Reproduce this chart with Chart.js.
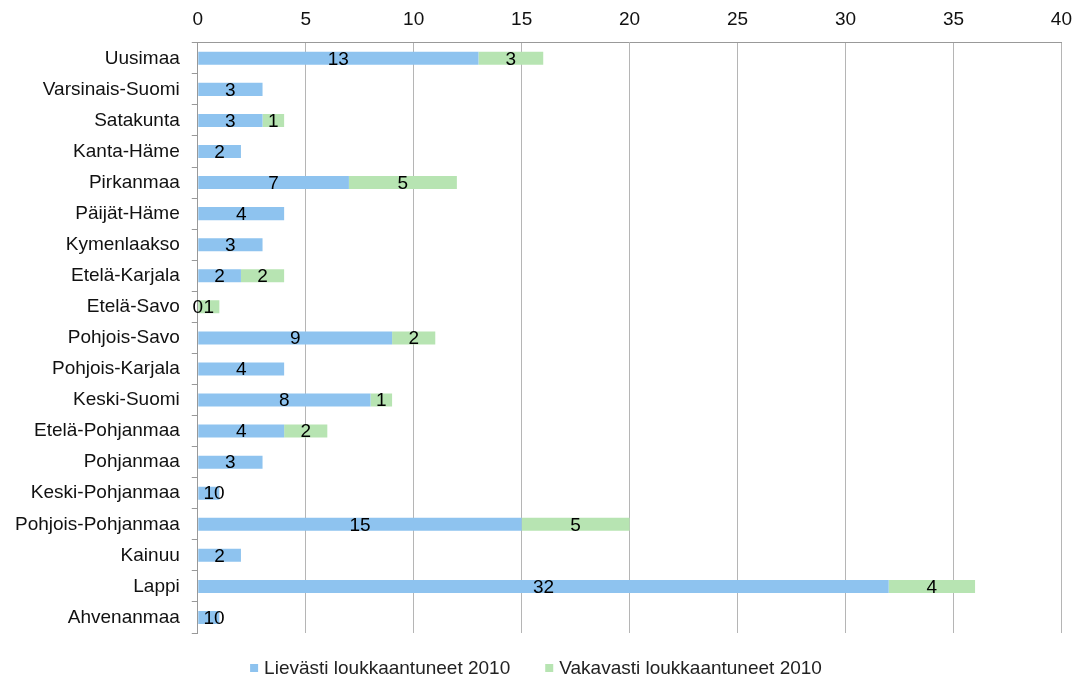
<!DOCTYPE html>
<html>
<head>
<meta charset="utf-8">
<script src="https://cdn.jsdelivr.net/npm/chart.js@4/dist/chart.umd.min.js"></script>
<style>
  html, body { margin: 0; padding: 0; background: #fff; overflow: hidden; }
  #wrap { width: 1084px; height: 682px; }
</style>
</head>
<body>
<div id="wrap"><canvas id="injuries"></canvas></div>
<script>
const regions = [
  "Uusimaa", "Varsinais-Suomi", "Satakunta", "Kanta-Häme", "Pirkanmaa",
  "Päijät-Häme", "Kymenlaakso", "Etelä-Karjala", "Etelä-Savo", "Pohjois-Savo",
  "Pohjois-Karjala", "Keski-Suomi", "Etelä-Pohjanmaa", "Pohjanmaa",
  "Keski-Pohjanmaa", "Pohjois-Pohjanmaa", "Kainuu", "Lappi", "Ahvenanmaa"
]
const lievasti = [13, 3, 3, 2, 7, 4, 3, 2, 0, 9, 4, 8, 4, 3, 1, 15, 2, 32, 1]
const vakavasti = [3, null, 1, null, 5, null, null, 2, 1, 2, null, 1, 2, null, 0, 5, null, 4, 0]
const xTicks = [0, 5, 10, 15, 20, 25, 30, 35, 40]

const font = { family: "'Liberation Sans', Arial, sans-serif", size: 19 }

// value labels centred on each bar segment
const barLabels = {
  id: "barLabels",
  afterDatasetsDraw(chart) {
    const ctx = chart.ctx
    ctx.save()
    ctx.font = `${font.size}px ${font.family}`
    ctx.fillStyle = "#000"
    ctx.textAlign = "center"
    ctx.textBaseline = "middle"
    chart.data.datasets.forEach((ds, i) => {
      chart.getDatasetMeta(i).data.forEach((bar, j) => {
        const v = ds.data[j]
        if (v === null || v === undefined) return
        const { x, base, y } = bar.getProps(["x", "base", "y"], true)
        ctx.fillText(String(v), (x + base) / 2, y + 1)
      })
    })
    ctx.restore()
  }
}

// legend row under the plot: small square swatch, then the series name
const bottomLegend = {
  id: "bottomLegend",
  afterDraw(chart) {
    const ctx = chart.ctx
    const box = 8, textGap = 6, itemGap = 35
    ctx.save()
    ctx.font = `${font.size}px ${font.family}`
    ctx.textBaseline = "middle"
    const items = chart.data.datasets.map(ds => ({
      text: ds.label,
      color: ds.backgroundColor,
      w: box + textGap + ctx.measureText(ds.label).width
    }))
    const total = items.reduce((s, it) => s + it.w, 0) + itemGap * (items.length - 1)
    let x = (chart.width - total) / 2 - 6
    const y = chart.chartArea.bottom + 35
    items.forEach(it => {
      ctx.fillStyle = it.color
      ctx.fillRect(x, y - box / 2, box, box)
      ctx.fillStyle = "#222"
      ctx.fillText(it.text, x + box + textGap, y + 1)
      x += it.w + itemGap
    })
    ctx.restore()
  }
}

new Chart(document.getElementById("injuries"), {
  type: "bar",
  data: {
    labels: regions,
    datasets: [
      {
        label: "Lievästi loukkaantuneet 2010",
        data: lievasti,
        backgroundColor: "#8ec3ef",
        categoryPercentage: 1,
        barPercentage: 0.42
      },
      {
        label: "Vakavasti loukkaantuneet 2010",
        data: vakavasti,
        backgroundColor: "#b7e4b2",
        categoryPercentage: 1,
        barPercentage: 0.42
      }
    ]
  },
  plugins: [barLabels, bottomLegend],
  options: {
    indexAxis: "y",
    responsive: true,
    maintainAspectRatio: false,
    animation: false,
    layout: { padding: { left: 3, right: 22, top: -4, bottom: 49 } },
    plugins: {
      tooltip: { enabled: false },
      legend: { display: false }
    },
    scales: {
      x: {
        position: "top",
        stacked: true,
        min: 0,
        max: 40,
        afterBuildTicks: axis => { axis.ticks = xTicks.map(v => ({ value: v })) },
        ticks: { font: font, color: "#111", padding: 12 },
        grid: { color: "#b5b5b5", drawTicks: false },
        border: { color: "#999" }
      },
      y: {
        stacked: true,
        ticks: { font: font, color: "#111", padding: 12 },
        grid: { offset: true, drawOnChartArea: false, tickLength: 6, color: "#999" },
        border: { color: "#999" }
      }
    }
  }
})
</script>
</body>
</html>
